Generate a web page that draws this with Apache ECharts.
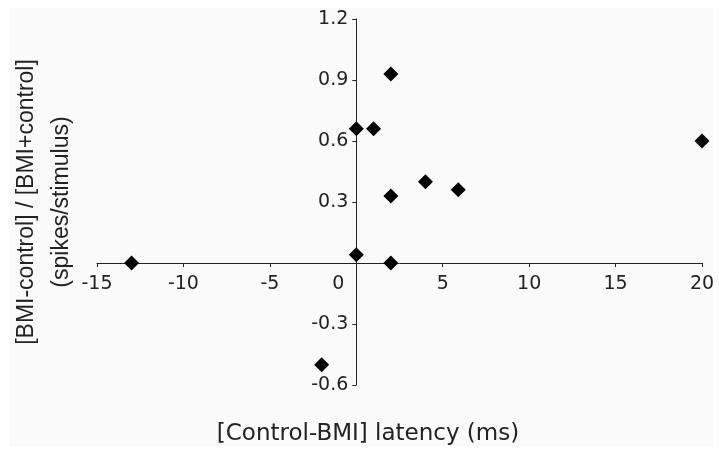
<!DOCTYPE html>
<html>
<head>
<meta charset="utf-8">
<script src="https://cdn.jsdelivr.net/npm/echarts@6/dist/echarts.min.js"></script>
<style>
  html, body { margin: 0; padding: 0; background: #ffffff; }
  #chart { position: absolute; left: 9px; top: 8px; width: 704px; height: 438px; background: #fafafa; }
</style>
</head>
<body>
<div id="chart"></div>
<script>
// Data
const latencyDiff = [-13, -2, 0, 0, 1, 2, 2, 2, 4, 5.9, 20];
const spikeIndex  = [0, -0.5, 0.04, 0.66, 0.66, 0.93, 0.33, 0, 0.40, 0.36, 0.60];

// Axis ranges / tick settings
const xRange = { min: -15, max: 20, interval: 5 };
const yRange = { min: -0.6, max: 1.2, interval: 0.3 };
const originLabel = '0';

const xTitle = '[Control-BMI] latency (ms)';
const yTitleLines = ['[BMI-control] / [BMI+control]', '(spikes/stimulus)'];

const points = latencyDiff.map((x, i) => [x, spikeIndex[i]]);

const axisColor = '#222222';
const textColor = '#222222';

const chart = echarts.init(document.getElementById('chart'), null, { renderer: 'canvas' });
chart.setOption({
  backgroundColor: 'transparent',
  animation: false,
  grid: { left: 88, right: 11, top: 11, bottom: 61, outerBoundsMode: 'none', containLabel: false },
  xAxis: {
    type: 'value',
    min: xRange.min, max: xRange.max, interval: xRange.interval,
    offset: 0,
    axisLine: { onZero: false, lineStyle: { color: axisColor, width: 1 } },
    axisTick: { show: true, inside: false, length: 4, lineStyle: { color: axisColor } },
    splitLine: { show: false },
    axisLabel: {
      margin: 12,
      color: textColor, fontFamily: 'DejaVu Sans', fontSize: 19,
      formatter: v => Math.abs(v) < 1e-9 ? '' : String(v)
    },
    name: xTitle,
    nameLocation: 'middle',
    nameGap: 160,
    nameTextStyle: { color: textColor, fontFamily: 'DejaVu Sans', fontSize: 23, padding: [0, 63, 0, 0] }
  },
  yAxis: {
    type: 'value',
    min: yRange.min, max: yRange.max, interval: yRange.interval,
    offset: 0,
    axisLine: { onZero: false, lineStyle: { color: axisColor, width: 1 } },
    axisTick: { show: true, inside: false, length: 4, lineStyle: { color: axisColor } },
    splitLine: { show: false },
    axisLabel: {
      margin: 8,
      color: textColor, fontFamily: 'DejaVu Sans', fontSize: 19,
      formatter: v => Math.abs(v) < 1e-9 ? '' : v.toFixed(1)
    },
    name: yTitleLines.join('\n'),
    nameLocation: 'middle',
    nameGap: 277,
    nameTextStyle: { color: textColor, fontFamily: 'Liberation Sans', fontSize: 23, lineHeight: 35 }
  },
  series: [{
    type: 'scatter',
    data: points,
    symbol: 'diamond',
    symbolSize: [15, 15],
    itemStyle: { color: '#000000', opacity: 1 }
  }]
});

// Move both axes (line, ticks, labels, name) so they cross at the data origin
const zero = chart.convertToPixel({ gridIndex: 0 }, [0, 0]);
const leftPx = chart.convertToPixel({ xAxisIndex: 0 }, xRange.min);
const bottomPx = chart.convertToPixel({ yAxisIndex: 0 }, yRange.min);
chart.setOption({
  xAxis: { offset: -(bottomPx - zero[1]) },
  yAxis: { offset: -(zero[0] - leftPx) },
  // origin tick label, drawn just left of the crossing axes (as in the reference)
  graphic: [{
    type: 'text',
    x: zero[0] - 18,
    y: zero[1] + 21,
    style: {
      text: originLabel,
      fill: textColor,
      font: '19px "DejaVu Sans"',
      align: 'center',
      verticalAlign: 'middle'
    }
  }]
});
</script>
</body>
</html>
